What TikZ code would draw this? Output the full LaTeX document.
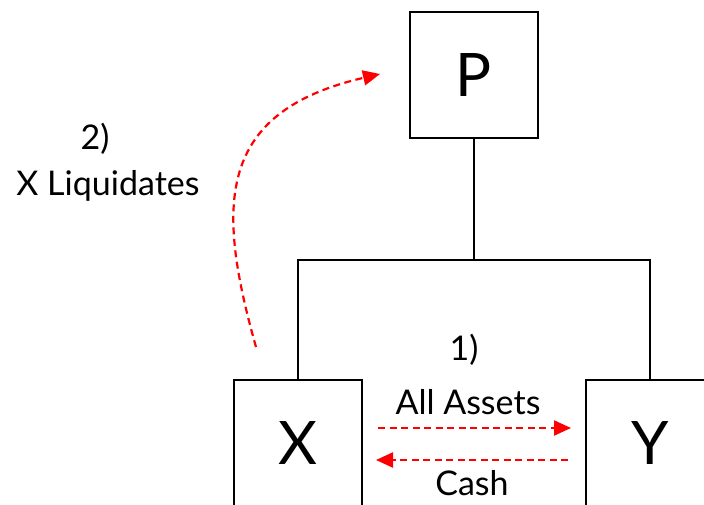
\documentclass[tikz,border=0pt]{standalone}
\usepackage{fontspec}
\setmainfont{Lato}
\usetikzlibrary{arrows.meta}
\begin{document}
\begin{tikzpicture}[x=1pt,y=-1pt,
  entity/.style={draw=black,line width=2.8pt,minimum width=128pt,minimum height=126pt,inner sep=0pt,font=\fontsize{60}{64}\selectfont},
  tree/.style={draw=black,line width=2.8pt},
  flow/.style={draw=red,line width=2.2pt,dash pattern=on 7pt off 4.5pt,-{Triangle[length=17pt,width=15pt]}},
  lbl/.style={font=\fontsize{34}{38}\selectfont,inner sep=0pt,align=center}]
\useasboundingbox (0,0) rectangle (704,504);
\clip (0,0) rectangle (704,504);
% holding company and its two subsidiaries
\node[entity] (P) at (474,75) {P};
\node[entity] (X) at (298,443) {X};
\node[entity] (Y) at (650,443) {Y};
% ownership tree
\coordinate (J) at (474,260);
\draw[tree] (P.south) -- (J);
\draw[tree] (X.north) |- (J) -| (Y.north);
% step 1: asset transfer for cash
\coordinate (a1) at (378,428);
\coordinate (a2) at (571,428);
\coordinate (c1) at (568,460);
\coordinate (c2) at (376,460);
\draw[flow] (a1) -- (a2);
\draw[flow] (c1) -- (c2);
\node[lbl] (s1) at (464,350) {1)};
\node[lbl] (assets) at (468,402) {All Assets};
\node[lbl] (cash) at (472,483) {Cash};
% step 2: liquidation of X
\coordinate (l1) at (256,347);
\coordinate (l2) at (380,74);
\draw[flow] (l1) .. controls (216,205) and (216,112) .. (l2);
\node[lbl] (s2) at (95,139) {2)};
\node[lbl] (liq) at (108,186) {X Liquidates};
\end{tikzpicture}
\end{document}
